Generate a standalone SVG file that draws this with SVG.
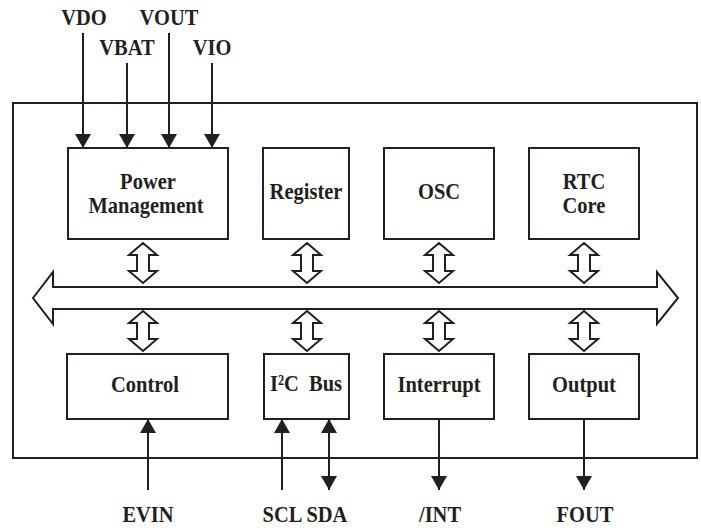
<svg xmlns="http://www.w3.org/2000/svg" width="701" height="528" viewBox="0 0 701 528">
<style>
.box{fill:#fff;stroke:#231f20;stroke-width:2}
.ln{fill:none;stroke:#231f20;stroke-width:2}
.da{fill:#fff;stroke:#231f20;stroke-width:2;stroke-linejoin:miter}
text{font-family:"Liberation Serif","Times New Roman",serif;font-weight:bold;fill:#231f20;font-size:20.5px;text-anchor:middle}
</style>
<defs>
<marker id="ah" viewBox="0 0 14 16" refX="14" refY="8" markerWidth="14" markerHeight="16" markerUnits="userSpaceOnUse" orient="auto-start-reverse">
<path d="M0,0 L14,8 L0,16 z" fill="#231f20"/>
</marker>
<path id="vda" class="da" d="M0,0 L14,12 L6,12 L6,28 L14,28 L0,40 L-14,28 L-6,28 L-6,12 L-14,12 z"/>
</defs>
<rect x="0" y="0" width="701" height="528" fill="#fff"/>
<rect id="chip" class="box" x="13" y="103" width="684" height="355"/>
<g id="bus">
<polygon class="da" points="33,298 53,272 53,287 657,287 657,272 678,298 657,324 657,309 53,309 53,324"/>
</g>
<g id="power"><rect class="box" x="68" y="148" width="160" height="91"/><text transform="translate(148,189) scale(1,1.14)">Power</text><text transform="translate(146,213) scale(1,1.14)">Management</text></g>
<g id="register"><rect class="box" x="263" y="148" width="86" height="91"/><text transform="translate(306,199) scale(1,1.14)">Register</text></g>
<g id="osc"><rect class="box" x="384" y="148" width="110" height="91"/><text transform="translate(439,199) scale(1,1.14)">OSC</text></g>
<g id="rtc"><rect class="box" x="529" y="148" width="110" height="91"/><text transform="translate(584,189) scale(1,1.14)">RTC</text><text transform="translate(584,213) scale(1,1.14)">Core</text></g>
<g id="control"><rect class="box" x="67" y="354" width="161" height="65"/><text transform="translate(145,392) scale(1,1.14)">Control</text></g>
<g id="i2c"><rect class="box" x="264" y="354" width="85" height="65"/><text transform="translate(306,391) scale(1,1.14)" style="white-space:pre">I²C  Bus</text></g>
<g id="interrupt"><rect class="box" x="384" y="354" width="110" height="65"/><text transform="translate(439,392) scale(1,1.14)">Interrupt</text></g>
<g id="output"><rect class="box" x="529" y="354" width="110" height="65"/><text transform="translate(584,392) scale(1,1.14)">Output</text></g>
<g id="connectors">
<use href="#vda" x="143" y="243"/>
<use href="#vda" x="307" y="243"/>
<use href="#vda" x="439" y="243"/>
<use href="#vda" x="584" y="243"/>
<use href="#vda" x="143" y="311"/>
<use href="#vda" x="307" y="311"/>
<use href="#vda" x="439" y="311"/>
<use href="#vda" x="584" y="311"/>
<line class="ln" x1="83" y1="33" x2="83" y2="148" marker-end="url(#ah)"/>
<line class="ln" x1="127" y1="63" x2="127" y2="148" marker-end="url(#ah)"/>
<line class="ln" x1="169" y1="33" x2="169" y2="148" marker-end="url(#ah)"/>
<line class="ln" x1="212" y1="63" x2="212" y2="148" marker-end="url(#ah)"/>
<line class="ln" x1="148" y1="490" x2="148" y2="419" marker-end="url(#ah)"/>
<line class="ln" x1="282" y1="490" x2="282" y2="419" marker-end="url(#ah)"/>
<line class="ln" x1="329" y1="419" x2="329" y2="490" marker-start="url(#ah)" marker-end="url(#ah)"/>
<line class="ln" x1="439" y1="419" x2="439" y2="490" marker-end="url(#ah)"/>
<line class="ln" x1="584" y1="419" x2="584" y2="490" marker-end="url(#ah)"/>
</g>
<g id="labels">
<text transform="translate(84,25) scale(1,1.1)">VDO</text>
<text transform="translate(127,55) scale(1,1.1)">VBAT</text>
<text transform="translate(169,25) scale(1,1.1)">VOUT</text>
<text transform="translate(212,55) scale(1,1.1)">VIO</text>
<text transform="translate(148,522) scale(1,1.1)">EVIN</text>
<text transform="translate(305,522) scale(1,1.1)">SCL SDA</text>
<text transform="translate(440,522) scale(1,1.1)">/INT</text>
<text transform="translate(585,522) scale(1,1.1)">FOUT</text>
</g>
</svg>
